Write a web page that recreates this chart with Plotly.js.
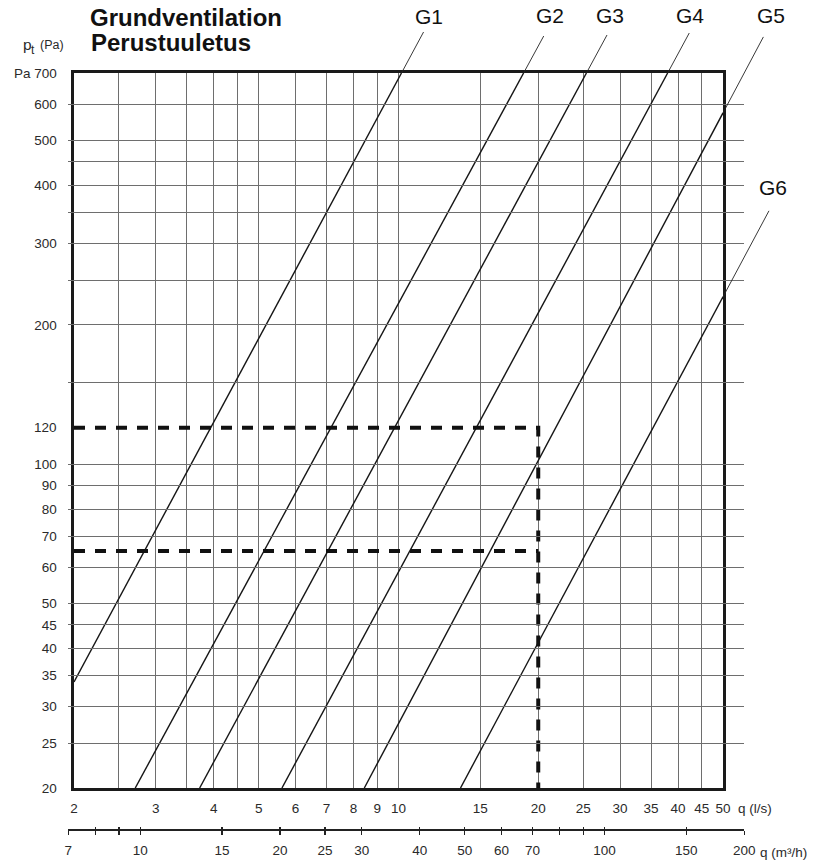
<!DOCTYPE html>
<html>
<head>
<meta charset="utf-8">
<script src="https://cdn.plot.ly/plotly-3.0.1.min.js"></script>
<style>html,body{margin:0;padding:0;background:#fff;}#chart{width:817px;height:863px;}</style>
</head>
<body>
<div id="chart"></div>
<script>
// ---- data ----
const seriesNames = ['G1','G2','G3','G4','G5','G6'];
const qG1 = [2, 10.15],  pG1 = [33.9, 700];
const qG2 = [2.71, 18.6], pG2 = [20, 700];
const qG3 = [3.73, 25.4], pG3 = [20, 700];
const qG4 = [5.61, 38.0], pG4 = [20, 700];
const qG5 = [8.44, 50],   pG5 = [20, 574];
const qG6 = [13.6, 50],   pG6 = [20, 230];

const markQ1 = [2, 20, 20], markP1 = [120, 120, 20];
const markQ2 = [2, 20],     markP2 = [65, 65];

const xGrid = [2,2.5,3,3.5,4,4.5,5,6,7,8,9,10,15,20,25,30,35,40,45,50];
const xLabels = ['2','','3','','4','','5','6','7','8','9','10','15','20','25','30','35','40','45','50'];
const yGrid = [20,25,30,35,40,45,50,60,70,80,90,100,150,200,250,300,350,400,450,500,600,700];
const yLabels = ['20','25','30','35','40','45','50','60','70','80','90','100','','200','','300','','400','','500','600','Pa 700'];
const yExtraLabel = 120;
const m3hTicks = [7,8,9,10,15,20,25,30,40,50,60,70,80,90,100,150,200];
const m3hLabels = ['7','','','10','15','20','25','30','40','50','60','70','','','100','150','200'];
const lsToM3h = 3.6;

// ---- layout geometry ----
const W = 817, H = 863;
const plotL = 74, plotR = 723, plotT = 73, plotB = 788;
const fx = px => px / W;
const fy = py => (H - py) / H;
const xr = [Math.log10(2), Math.log10(50)];
const yr = [Math.log10(20), Math.log10(700)];
const pxDecX = (plotR - plotL) / (xr[1] - xr[0]);
const pxDecY = (plotB - plotT) / (yr[1] - yr[0]);
const m3r = [Math.log10(7), Math.log10(200)];
const m3L = plotL + pxDecX * (m3r[0] - Math.log10(2 * lsToM3h));
const m3R = plotL + pxDecX * (m3r[1] - Math.log10(2 * lsToM3h));
// full-page overlay axes with the same scale (for the label leaders outside the frame)
const ovX = [xr[0] - plotL / pxDecX, xr[1] + (W - plotR) / pxDecX];
const ovY = [yr[0] - (H - plotB) / pxDecY, yr[1] + plotT / pxDecY];

const FONT = '"Liberation Sans", Arial, Helvetica, sans-serif';
const TXT = '#2a2a2a';

const qs = [qG1,qG2,qG3,qG4,qG5,qG6];
const ps = [pG1,pG2,pG3,pG4,pG5,pG6];

const traces = qs.map((q, i) => ({
  x: q, y: ps[i], name: seriesNames[i], type: 'scatter', mode: 'lines',
  line: {color: '#151515', width: 1.4}, hoverinfo: 'x+y+name', showlegend: false
}));
traces.push({x: markQ1, y: markP1, mode: 'lines', showlegend: false, hoverinfo: 'skip',
  line: {color: '#111', width: 4, dash: '11px,10px'}});
traces.push({x: markQ2, y: markP2, mode: 'lines', showlegend: false, hoverinfo: 'skip',
  line: {color: '#111', width: 4, dash: '11px,10px'}});
// carrier traces for the m3/h scale
traces.push({x: [m3hTicks[0], m3hTicks[m3hTicks.length-1]], y: [20, 20], xaxis: 'x2', yaxis: 'y',
  mode: 'lines', line: {width: 0}, hoverinfo: 'skip', showlegend: false});
traces.push({x: [m3hTicks[0], m3hTicks[m3hTicks.length-1]], y: [20, 20], xaxis: 'x3', yaxis: 'y',
  mode: 'lines', line: {width: 0}, hoverinfo: 'skip', showlegend: false});

// leaders: continue each curve past the frame by a given vertical rise (pixels)
const leaderRise = [41, 37, 38, 40, 76, 86];
const labelShift = [
  {dx: 27, dy: 56}, {dx: 26, dy: 57}, {dx: 24, dy: 57},
  {dx: 22, dy: 57}, {dx: 48, dy: 97}, {dx: 50, dy: 109}
];
qs.forEach((q, i) => {
  const p = ps[i];
  const n = q.length - 1;
  const k = Math.log10(p[n] / p[0]) / Math.log10(q[n] / q[0]);
  const pEnd = p[n] * Math.pow(10, leaderRise[i] / pxDecY);
  const qEnd = q[n] * Math.pow(pEnd / p[n], 1 / k);
  traces.push({x: [q[n], qEnd], y: [p[n], pEnd], xaxis: 'x4', yaxis: 'y4', mode: 'lines',
    line: {color: '#222', width: 0.9}, hoverinfo: 'skip', showlegend: false});
});

const annotations = [];
qs.forEach((q, i) => {
  const hx = Math.log10(q[q.length-1]), hy = Math.log10(ps[i][ps[i].length-1]);
  annotations.push({x: hx, y: hy, xref: 'x', yref: 'y', text: seriesNames[i], showarrow: false,
    xshift: labelShift[i].dx, yshift: labelShift[i].dy, font: {family: FONT, size: 21, color: '#111'}});
});
annotations.push({x: fx(89), y: fy(42.5), xref: 'paper', yref: 'paper', xanchor: 'left', yanchor: 'middle',
  text: '<b>Perustuuletus</b>', showarrow: false, font: {family: FONT, size: 24, color: '#111'}});
// y-axis unit: p with subscript t, then (Pa)
annotations.push({x: fx(21), y: fy(44), xref: 'paper', yref: 'paper', xanchor: 'left', yanchor: 'middle',
  text: 'p', showarrow: false, font: {family: FONT, size: 15.5, color: TXT}});
annotations.push({x: fx(29), y: fy(50), xref: 'paper', yref: 'paper', xanchor: 'left', yanchor: 'middle',
  text: 't', showarrow: false, font: {family: FONT, size: 12, color: TXT}});
annotations.push({x: fx(38), y: fy(45), xref: 'paper', yref: 'paper', xanchor: 'left', yanchor: 'middle',
  text: '(Pa)', showarrow: false, font: {family: FONT, size: 12.5, color: TXT}});
annotations.push({x: fx(plotL), y: Math.log10(yExtraLabel), xref: 'paper', yref: 'y', xanchor: 'right',
  yanchor: 'middle', xshift: -15, text: String(yExtraLabel), showarrow: false,
  font: {family: FONT, size: 13.5, color: TXT}});
annotations.push({x: xr[1], y: fy(808), xref: 'x', yref: 'paper', xanchor: 'left', yanchor: 'middle',
  xshift: 13, text: 'q (l/s)', showarrow: false, font: {family: FONT, size: 13.5, color: TXT}});
annotations.push({x: m3r[1], y: fy(852), xref: 'x2', yref: 'paper', xanchor: 'left', yanchor: 'middle',
  xshift: 14, text: 'q (m³/h)', showarrow: false, font: {family: FONT, size: 13.5, color: TXT}});

const layout = {
  width: W, height: H,
  margin: {l: 0, r: 0, t: 0, b: 0, pad: 0},
  paper_bgcolor: '#fff', plot_bgcolor: 'rgba(0,0,0,0)',
  showlegend: false,
  title: {text: '<b>Grundventilation</b>', x: 90 / W, xref: 'container', xanchor: 'left',
    y: 1 - 18 / H, yref: 'container', yanchor: 'middle',
    font: {family: FONT, size: 24, color: '#111'}},
  xaxis: {type: 'log', range: xr, domain: [fx(plotL), fx(plotR)], anchor: 'y',
    tickmode: 'array', tickvals: xGrid, ticktext: xLabels, ticks: '', ticklabelstandoff: 6,
    showgrid: true, gridcolor: '#6e6e6e', gridwidth: 1, zeroline: false,
    showline: true, mirror: true, linecolor: '#1a1a1a', linewidth: 2.6,
    tickfont: {family: FONT, size: 13.5, color: TXT}},
  yaxis: {type: 'log', range: yr, domain: [fy(plotB), fy(plotT)], anchor: 'x',
    tickmode: 'array', tickvals: yGrid, ticktext: yLabels, ticks: '', ticklabelstandoff: 12,
    showgrid: true, gridcolor: '#6e6e6e', gridwidth: 1, zeroline: false,
    showline: true, mirror: true, linecolor: '#1a1a1a', linewidth: 2.6,
    tickfont: {family: FONT, size: 13.5, color: TXT}},
  xaxis2: {type: 'log', range: m3r, domain: [fx(m3L), fx(m3R)], anchor: 'free', position: fy(830),
    tickmode: 'array', tickvals: m3hTicks, ticktext: m3hLabels, ticks: 'outside', ticklen: 4,
    tickwidth: 1.3, tickcolor: '#222', ticklabelstandoff: 4,
    showgrid: false, zeroline: false, showline: true, linecolor: '#222', linewidth: 2.2,
    tickfont: {family: FONT, size: 13.5, color: TXT}},
  xaxis3: {type: 'log', range: m3r, overlaying: 'x2', anchor: 'free', position: fy(830),
    tickmode: 'array', tickvals: m3hTicks, ticks: 'inside', ticklen: 3.5, tickwidth: 1.3, tickcolor: '#222',
    showticklabels: false, showgrid: false, zeroline: false, showline: false},
  xaxis4: {type: 'log', range: ovX, domain: [0, 1], anchor: 'y4', visible: false, fixedrange: true},
  yaxis4: {type: 'log', range: ovY, domain: [0, 1], anchor: 'x4', visible: false, fixedrange: true},
  annotations: annotations
};

Plotly.newPlot('chart', traces, layout, {displayModeBar: false, staticPlot: true});
</script>
</body>
</html>
